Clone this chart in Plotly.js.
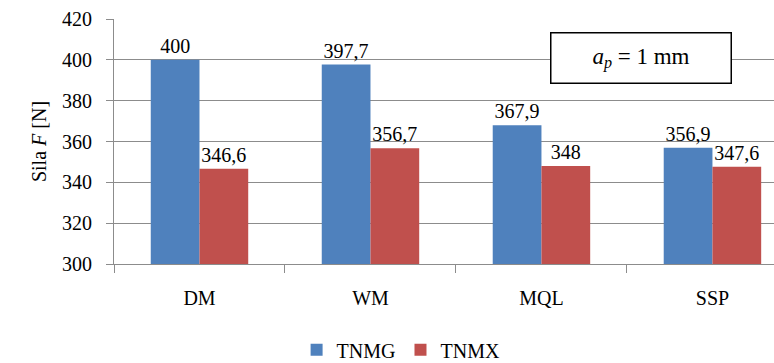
<!DOCTYPE html>
<html>
<head>
<meta charset="utf-8">
<script src="https://cdn.plot.ly/plotly-3.0.1.min.js"></script>
<style>
  html, body { margin: 0; padding: 0; background: #fff; }
  #chart { width: 774px; height: 363px; }
</style>
</head>
<body>
<div id="chart"></div>
<script>
// Cutting force by lubrication method, for two insert types
const categories = ['DM', 'WM', 'MQL', 'SSP'];
const seriesNames = ['TNMG', 'TNMX'];
const tnmgValues = [400, 397.7, 367.9, 356.9];
const tnmxValues = [346.6, 356.7, 348, 347.6];
const yTicks = [300, 320, 340, 360, 380, 400, 420];

const FONT = 'Liberation Serif';
const GRID = '#8c8c8c';

// decimal comma labels taken straight from the values
const fmt = v => String(v).replace('.', ',');

function barTrace(name, values, color) {
  return {
    type: 'bar',
    name: name,
    x: categories,
    y: values,
    base: 0,
    marker: { color: color },
    text: values.map(fmt),
    textposition: 'outside',
    textangle: 0,
    constraintext: 'none',
    cliponaxis: false,
    textfont: { family: FONT, size: 20, color: '#000' },
    hoverinfo: 'skip'
  };
}

const data = [
  barTrace(seriesNames[0], tnmgValues, '#4F81BD'),
  barTrace(seriesNames[1], tnmxValues, '#C0504D')
];

const layout = {
  width: 774,
  height: 363,
  margin: { l: 114, r: 0, t: 19, b: 99, autoexpand: false },
  paper_bgcolor: '#fff',
  plot_bgcolor: '#fff',
  font: { family: FONT, size: 20, color: '#000' },
  barmode: 'group',
  bargap: 0.43,
  bargroupgap: 0,
  showlegend: true,
  legend: {
    orientation: 'h',
    x: 0.435, xanchor: 'center',
    y: -0.35, yanchor: 'middle',
    font: { family: FONT, size: 20, color: '#000' },
    itemwidth: 30,
    tracegroupgap: 0
  },
  xaxis: {
    type: 'category',
    range: [-0.5, 3.36],
    showgrid: false,
    showline: true,
    linecolor: GRID,
    linewidth: 1,
    ticks: 'outside',
    tickson: 'boundaries',
    ticklen: 8,
    tickcolor: GRID,
    ticklabelstandoff: 16,
    tickfont: { family: FONT, size: 20, color: '#000' },
    fixedrange: true
  },
  yaxis: {
    range: [300, 420],
    tickvals: yTicks,
    ticktext: yTicks.map(String),
    showgrid: true,
    gridcolor: GRID,
    gridwidth: 1,
    zeroline: false,
    showline: true,
    linecolor: GRID,
    linewidth: 1,
    ticks: 'outside',
    ticklen: 7,
    tickcolor: GRID,
    ticklabelstandoff: 10,
    tickfont: { family: FONT, size: 20, color: '#000' },
    title: {
      text: 'Sila <i>F</i> [N]',
      font: { family: FONT, size: 20, color: '#000' },
      standoff: 10
    },
    fixedrange: true
  },
  annotations: [{
    xref: 'paper', yref: 'paper',
    x: 0.798, y: 0.839,
    xanchor: 'center', yanchor: 'middle',
    text: '<i>a</i><sub><i>p</i></sub> = 1 mm',
    showarrow: false,
    font: { family: FONT, size: 23, color: '#000' },
    bgcolor: '#fff',
    bordercolor: '#000',
    borderwidth: 1.5,
    borderpad: 2,
    width: 175,
    height: 45
  }]
};

Plotly.newPlot('chart', data, layout, { displayModeBar: false, staticPlot: true });
</script>
</body>
</html>
